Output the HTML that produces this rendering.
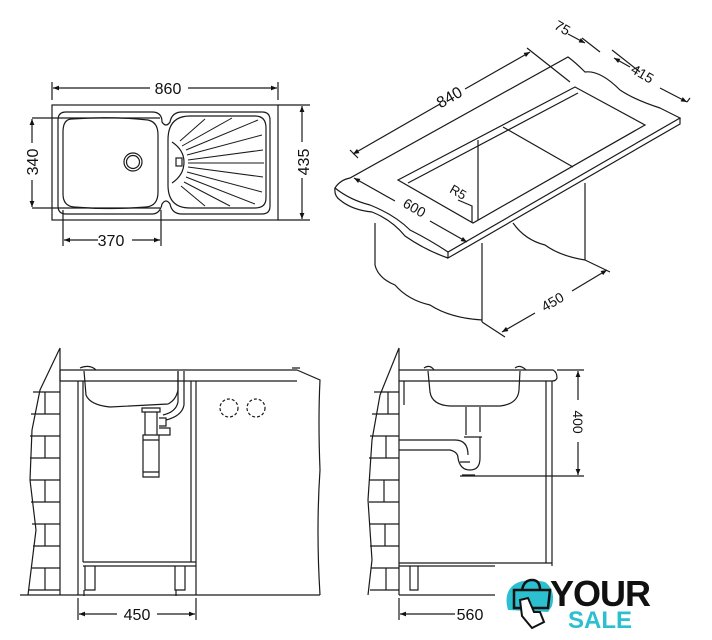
<!DOCTYPE html>
<html><head><meta charset="utf-8"><style>
html,body{margin:0;padding:0;background:#fff}
svg{display:block}
text{font-family:"Liberation Sans",sans-serif;fill:#111;font-weight:500}
</style></head><body>
<svg width="712" height="640" viewBox="0 0 712 640" xmlns="http://www.w3.org/2000/svg">
<defs>
<marker id="a" viewBox="0 0 10 10" refX="10" refY="5" markerWidth="7" markerHeight="5" orient="auto-start-reverse"><path d="M0,1 L10,5 L0,9z" fill="#111"/></marker>
</defs>
<g stroke="#1a1a1a" stroke-width="1.2" fill="none">
<!-- top-left plan -->
<rect x="52" y="105" width="226" height="115"/>
<path d="M66,112 H152 Q162,112 162,122 Q166,128 170,122 Q172,112 182,112 H262 Q270,112 270,120 V206 Q270,214 262,214 H182 Q172,214 170,204 Q166,198 162,204 Q160,214 152,214 H66 Q58,214 58,206 V120 Q58,112 66,112Z"/>
<path d="M72,119 Q110,116 148,120 Q158,122 158,135 V192 Q158,206 146,207 Q110,210 74,207 Q63,206 63,194 V132 Q63,119 72,119Z"/>
<circle cx="133" cy="162" r="9"/><circle cx="133" cy="162" r="6.5"/>
<path d="M190,116 H255 Q266,116 266,128 V198 Q266,208 255,208 H190 Q168,208 168,185 V140 Q168,116 190,116Z"/>
<path d="M172,142 Q184,150 184,162 Q184,175 172,183"/>
<rect x="176" y="158" width="6" height="8"/>
<g stroke-width="1">
<path d="M186,150 L258,120 M187,155 L262,135 M188,160 L263,150 M188,163 L264,163 M188,167 L263,177 M187,172 L262,192 M186,177 L255,204 M184,182 L230,206 M182,146 L232,118 M180,141 L205,119 M181,186 L205,206"/>
</g>
<!-- dims -->
<path d="M52,100 V82 M278,100 V82 M278,105 H310 M278,220 H310 M32,118 H160 M32,208 H160 M63,210 V246 M161,210 V246"/>
<line x1="53" y1="88" x2="150" y2="88" marker-start="url(#a)"/><line x1="188" y1="88" x2="277" y2="88" marker-end="url(#a)"/>
<line x1="302" y1="106" x2="302" y2="142" marker-start="url(#a)"/><line x1="302" y1="178" x2="302" y2="219" marker-end="url(#a)"/>
<line x1="32" y1="119" x2="32" y2="143" marker-start="url(#a)"/><line x1="32" y1="180" x2="32" y2="207" marker-end="url(#a)"/>
<line x1="64" y1="240" x2="98" y2="240" marker-start="url(#a)"/><line x1="132" y1="240" x2="160" y2="240" marker-end="url(#a)"/>

<!-- isometric -->
<path d="M335,188 Q340,180 350,178 L568,57 Q575,62 585,72 Q600,70 620,90 Q635,100 660,108 L680,118 L448,252 Q430,240 410,230 Q395,215 370,205 Q350,200 335,188Z"/>
<path d="M680,118 V124 L448,258 V252 M335,188 Q334,196 340,200 Q352,210 372,212 Q392,220 405,236 Q425,250 448,258"/>
<path d="M398,180 L575,87 L645,125 L473,223Z"/>
<path d="M408,183 L578,93 M503,127 L573,167"/>
<path d="M478,140 V220"/>
<path d="M375,223 V265 Q378,278 395,285 Q408,300 430,305 Q450,318 482,320 M482,243 V322 M585,183 V260 M513,223 Q525,240 545,245 Q560,256 585,260"/>
<!-- iso dims -->
<line x1="353" y1="154" x2="440" y2="104" marker-start="url(#a)"/><line x1="465" y1="89" x2="530" y2="52" marker-end="url(#a)"/>
<path d="M350,150 L358,158 M527,48 L570,82 M582,38 L600,52 M612,50 L640,72"/>
<line x1="568" y1="34" x2="585" y2="43" marker-end="url(#a)"/>
<line x1="614" y1="58" x2="630" y2="67" marker-start="url(#a)"/><line x1="660" y1="88" x2="687" y2="102" marker-end="url(#a)"/>
<path d="M687,102 L690,98"/>
<line x1="354" y1="178" x2="395" y2="201" marker-start="url(#a)"/><line x1="430" y1="221" x2="467" y2="242" marker-end="url(#a)"/>
<path d="M458,200 L472,206 L472,222"/>
<line x1="502" y1="332" x2="535" y2="313" marker-start="url(#a)"/><line x1="572" y1="291" x2="607" y2="270" marker-end="url(#a)"/>
<path d="M482,322 L505,337 M585,260 L610,272"/>

<!-- bottom left -->
<path d="M60,348 L40,390 L32,430 L30,480 L36,530 L28,595 M60,348 V595 M33,392 H60 M31,414 H60 M30,436 H60 M30,458 H60 M30,480 H60 M31,502 H60 M32,524 H60 M33,546 H60 M32,568 H60 M28,590 H60"/>
<path d="M45,392 V414 M45,436 V458 M45,480 V502 M45,524 V546 M45,568 V590"/>
<path d="M60,370 H297 M60,381 H297 M60,370 V381 M78,381 V595 M83,381 V562 M191,381 V562 M196,381 V595 M83,562 H196 M83,566 H196 M297,370 L320,380 Q318,420 320,470 Q316,530 320,595 M20,595 H320"/>
<path d="M80,368 Q90,364 96,370 M292,368 H300"/>
<path d="M84,371 L86,395 Q90,405 110,407 L168,404 Q176,400 178,390 L178,371"/>
<path d="M142,408 H160 V412 H142Z M145,412 V435 M157,412 V435 M143,435 H159 V477 H143Z M143,440 H159 M143,472 H159"/>
<path d="M159,418 H166 V426 H159 M159,428 H170 V435 H159 M166,420 Q182,416 184,405 V371 M163,415 Q176,412 178,402 V371"/>
<circle cx="229" cy="408" r="9" stroke-dasharray="3,2"/><circle cx="256" cy="408" r="9" stroke-dasharray="3,2"/>
<path d="M85,566 V590 H95 V566 M175,566 V590 H185 V566 M84,590 V596 M176,590 V596"/>
<path d="M78,598 V620 M196,598 V620"/>
<line x1="79" y1="614" x2="117" y2="614" marker-start="url(#a)"/><line x1="157" y1="614" x2="195" y2="614" marker-end="url(#a)"/>

<!-- bottom right -->
<path d="M399,348 L380,395 L372,440 L368,500 L372,560 L368,595 M399,348 V595 M374,392 H399 M372,414 H399 M370,436 H399 M369,458 H399 M369,480 H399 M369,502 H399 M370,524 H399 M370,546 H399 M371,568 H399 M370,590 H399"/>
<path d="M388,392 V414 M386,436 V458 M384,480 V502 M385,524 V546 M386,568 V590"/>
<path d="M399,370 H553 Q557,372 557,378 Q556,381 552,381 H399 M404,381 V405 M546,381 V563 M552,381 V566 M399,563 H552 M399,566 H495 M399,595 H495"/>
<path d="M428,371 L430,392 Q432,405 450,406 L500,406 Q518,404 519,390 L520,371 M424,368 Q430,364 434,370 M515,368 Q520,364 526,370"/>
<path d="M466,407 V435 M480,407 V432 M464,437 H482 M399,440 H455 Q468,440 468,455 M399,450 H450 Q458,452 458,458 Q460,470 470,470 Q480,470 480,458 V437 M460,462 H470 M462,475 H475"/>
<path d="M410,566 V590 H418 V566"/>
<path d="M460,476 H584 M557,370 H584"/>
<line x1="578" y1="371" x2="578" y2="400" marker-start="url(#a)"/><line x1="578" y1="442" x2="578" y2="475" marker-end="url(#a)"/>
<path d="M399,598 V620"/>
<line x1="400" y1="614" x2="455" y2="614" marker-start="url(#a)"/>
</g>
<g font-size="16">
<text x="168" y="94" text-anchor="middle">860</text>
<text x="111" y="246" text-anchor="middle">370</text>
<text transform="translate(309,162) rotate(-90)" text-anchor="middle">435</text>
<text transform="translate(38,162) rotate(-90)" text-anchor="middle">340</text>
<text transform="translate(452,102) rotate(-30)" text-anchor="middle">840</text>
<text transform="translate(560,32) rotate(30)" text-anchor="middle" font-size="14">75</text>
<text transform="translate(640,78) rotate(30)" text-anchor="middle" font-size="14">415</text>
<text transform="translate(412,212) rotate(30)" text-anchor="middle" font-size="14">600</text>
<text transform="translate(456,196) rotate(30)" text-anchor="middle" font-size="13">R5</text>
<text transform="translate(555,306) rotate(-30)" text-anchor="middle" font-size="14">450</text>
<text x="137" y="620" text-anchor="middle">450</text>
<text x="470" y="620" text-anchor="middle">560</text>
<text transform="translate(573,422) rotate(90)" text-anchor="middle" font-size="14">400</text>
</g>
<!-- logo -->
<path d="M508,610 Q503,592 515,584 Q525,578 545,582 Q556,590 552,606 L548,612 Z" fill="#2bbfd0"/>
<path d="M514,590 V608 H548 L550,590 Z M522,590 Q524,580 532,580 Q540,580 540,590" fill="none" stroke="#111" stroke-width="2.5"/>
<path d="M520,600 L528,598 L534,612 L540,612 L544,622 L532,628 L522,616Z" fill="#fff" stroke="#111" stroke-width="2"/>
<text x="550" y="606" font-size="36" font-weight="bold" fill="#111" style="letter-spacing:-1px;font-weight:bold">YOUR</text>
<text x="568" y="628" font-size="24" font-weight="bold" style="fill:#2bbfd0;font-weight:bold">SALE</text>
</svg>
</body></html>
